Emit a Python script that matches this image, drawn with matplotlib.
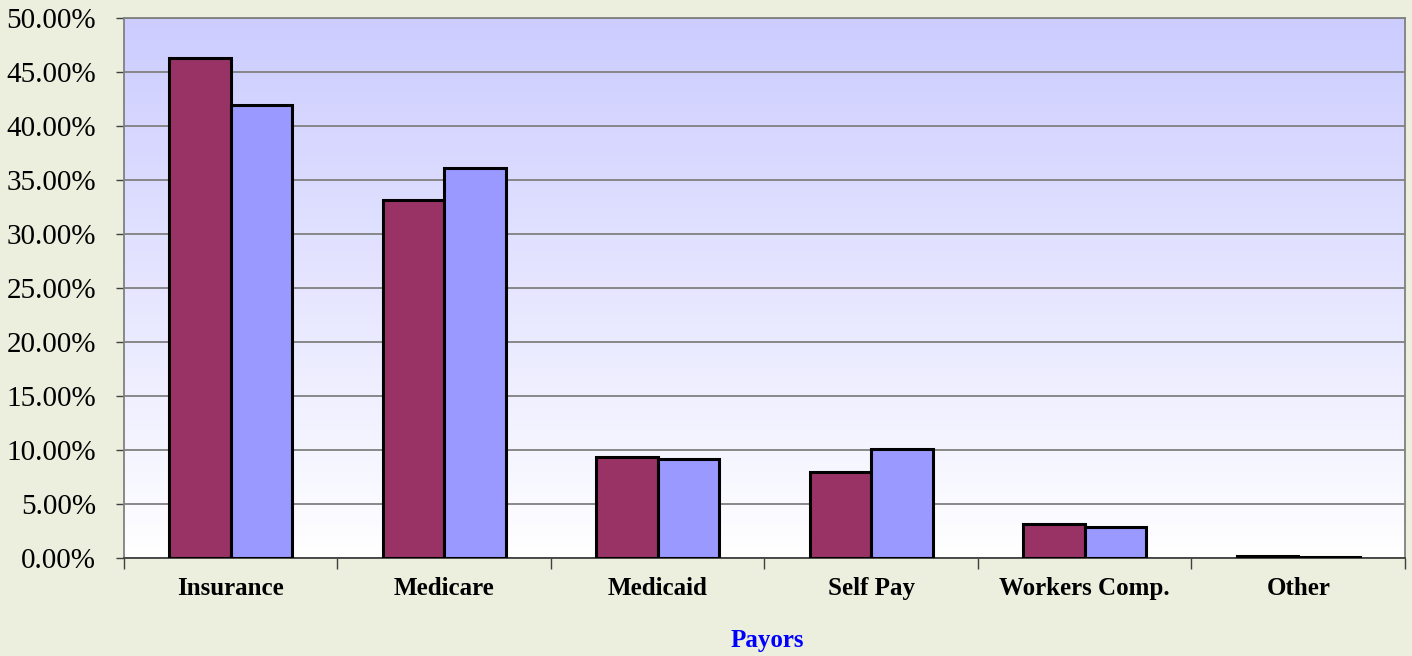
import matplotlib
matplotlib.use('Agg')
import matplotlib.pyplot as plt
import numpy as np
from matplotlib.ticker import FuncFormatter, FixedLocator

# data
payors = ['Insurance', 'Medicare', 'Medicaid', 'Self Pay', 'Workers Comp.', 'Other']
series_a = [46.3, 33.15, 9.37, 7.95, 3.12, 0.22]   # maroon
series_b = [41.9, 36.1, 9.15, 10.07, 2.85, 0.12]   # periwinkle

plt.rcParams['font.family'] = ['Liberation Serif', 'DejaVu Serif']

fig = plt.figure(figsize=(14.12, 6.56), dpi=100)
fig.patch.set_facecolor('#ECEEDE')
ax = fig.add_axes([0.0878, 0.1494, 0.9072, 0.8232])

# gradient background (light blue at top -> white at bottom)
grad = np.linspace(1, 0, 256).reshape(-1, 1)
top = np.array([0.80, 0.80, 1.0])
bot = np.array([1.0, 1.0, 1.0])
img = bot + (top - bot) * grad[..., None]
ax.imshow(img, extent=[0, 1, 0, 1], transform=ax.transAxes, aspect='auto', zorder=0)

x = np.arange(len(payors))
w = 0.288
ax.bar(x - w / 2, series_a, w, color='#993366', edgecolor='black', linewidth=2.2, zorder=3)
ax.bar(x + w / 2, series_b, w, color='#9999FF', edgecolor='black', linewidth=2.2, zorder=3)

ax.set_xlim(-0.5, len(payors) - 0.5)
ax.set_ylim(0, 50)
ax.set_yticks(np.arange(0, 50.1, 5))
ax.yaxis.set_major_formatter(FuncFormatter(lambda v, p: f'{v:.2f}%'))
ax.yaxis.grid(True, color='#808080', linewidth=1.3, zorder=1)
ax.set_axisbelow(True)

# categories centred, ticks at group boundaries
ax.set_xticks(x)
ax.set_xticklabels(payors, fontsize=18, fontweight='bold')
ax.tick_params(axis='x', length=0, pad=14)
ax.xaxis.set_minor_locator(FixedLocator(np.arange(-0.5, len(payors), 1)))
ax.tick_params(axis='x', which='minor', length=8, width=1, color='#404040', direction='out')
ax.tick_params(axis='y', labelsize=21, length=6, width=1, color='#404040', pad=14)

for s in ['left', 'right', 'top']:
    ax.spines[s].set_color('#808080')
    ax.spines[s].set_linewidth(1.3)
ax.spines['bottom'].set_color('#404040')
ax.spines['bottom'].set_linewidth(1.3)

# axis title
fig.text(767 / 1412, 1 - 640 / 656, 'Payors', fontsize=18, fontweight='bold',
         color='#0000FF', ha='center', va='center')

plt.savefig('out.png', dpi=100, facecolor=fig.get_facecolor())
